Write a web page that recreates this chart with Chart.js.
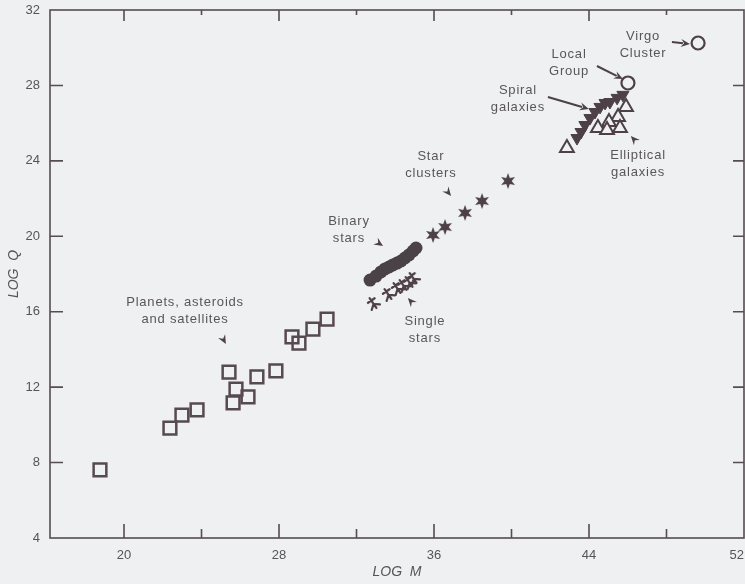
<!DOCTYPE html>
<html>
<head>
<meta charset="utf-8">
<script src="https://cdn.jsdelivr.net/npm/chart.js@4/dist/chart.umd.min.js"></script>
<style>
  html, body { margin: 0; padding: 0; background: #eef0f1; }
  #wrap { width: 745px; height: 584px; }
</style>
</head>
<body>
<div id="wrap"><canvas id="c" width="745" height="584"></canvas></div>
<script>
// Tick values
const xTicks = [20, 28, 36, 44, 52];
const yTicks = [4, 8, 12, 16, 20, 24, 28, 32];

// [log M, log Q] for each class of object
const planets = [
  [18.76, 7.61], [22.37, 9.83], [22.99, 10.52], [23.77, 10.79],
  [25.42, 12.80], [25.78, 11.90], [25.63, 11.16], [26.40, 11.48],
  [26.86, 12.54], [27.84, 12.86], [28.67, 14.66], [29.03, 14.34],
  [29.75, 15.08], [30.48, 15.61]
];
const singleStars = [
  [32.85, 16.46], [33.62, 16.94], [34.09, 17.26], [34.40, 17.42], [34.71, 17.58], [34.92, 17.79]
];
const binaryStars = [
  [32.70, 17.68], [33.01, 17.89], [33.26, 18.11], [33.47, 18.27], [33.68, 18.37], [33.88, 18.48],
  [34.09, 18.58], [34.30, 18.69], [34.50, 18.85], [34.71, 19.01], [34.92, 19.22], [35.07, 19.38]
];
const starClusters = [
  [35.95, 20.07], [36.57, 20.49], [37.60, 21.24], [38.48, 21.87], [39.82, 22.93]
];
const spiralGalaxies = [
  [43.38, 25.21], [43.59, 25.53], [43.79, 25.90], [44.05, 26.27], [44.31, 26.59],
  [44.57, 26.86], [44.83, 27.07], [45.08, 27.12], [45.45, 27.34], [45.75, 27.50]
];
const ellipticalGalaxies = [
  [42.86, 24.68], [45.91, 26.86], [45.50, 26.33], [45.03, 26.06],
  [44.46, 25.74], [44.93, 25.64], [45.60, 25.74]
];
const localGroup = [[46.01, 28.13]];
const virgoCluster = [[49.63, 30.25]];

// Callout labels (centre of the text block, in axis units)
const labels = [
  { lines: ['Virgo', 'Cluster'], at: [46.79, 30.14] },
  { lines: ['Local', 'Group'], at: [42.97, 29.19] },
  { lines: ['Spiral', 'galaxies'], at: [40.33, 27.28] },
  { lines: ['Elliptical', 'galaxies'], at: [46.53, 23.83] },
  { lines: ['Star', 'clusters'], at: [35.84, 23.78] },
  { lines: ['Binary', 'stars'], at: [31.61, 20.33] },
  { lines: ['Single', 'stars'], at: [35.53, 15.03] },
  { lines: ['Planets, asteroids', 'and satellites'], at: [23.15, 16.04] }
];
// Pointers: from -> to, with or without a shaft
const pointers = [
  { from: [48.28, 30.30], to: [49.21, 30.20], shaft: true },
  { from: [44.41, 29.03], to: [45.75, 28.34], shaft: true },
  { from: [41.88, 27.39], to: [43.99, 26.75], shaft: true },
  { from: [46.63, 24.79], to: [46.16, 25.32], shaft: false },
  { from: [36.46, 22.67], to: [36.88, 22.14], shaft: false },
  { from: [32.90, 19.80], to: [33.37, 19.48], shaft: false },
  { from: [35.12, 16.20], to: [34.65, 16.73], shaft: false },
  { from: [24.95, 14.87], to: [25.26, 14.29], shaft: false }
];

const BG = '#eef0f1';
const INK = '#4d4047';
const TEXT = '#5a5658';
const FONT = "'Liberation Sans', Arial, sans-serif";

const toPts = arr => arr.map(([x, y]) => ({ x, y }));

// Custom marker: filled six-pointed star
function makeStar() {
  const c = document.createElement('canvas');
  c.width = 18; c.height = 18;
  const g = c.getContext('2d');
  g.fillStyle = INK;
  g.beginPath();
  for (let i = 0; i < 12; i++) {
    const r = i % 2 === 0 ? 8 : 3.6;
    const a = -Math.PI / 2 + i * Math.PI / 6;
    const px = 9 + r * Math.cos(a), py = 9 + r * Math.sin(a);
    i === 0 ? g.moveTo(px, py) : g.lineTo(px, py);
  }
  g.closePath();
  g.fill();
  return c;
}
// Custom marker: forked cross used for single stars
function makeFork() {
  const c = document.createElement('canvas');
  c.width = 16; c.height = 16;
  const g = c.getContext('2d');
  g.strokeStyle = INK;
  g.lineWidth = 2.2;
  g.lineCap = 'round';
  g.translate(8, 8);
  g.rotate(-0.6);
  g.beginPath();
  g.moveTo(0, -6); g.lineTo(0, 6);
  g.moveTo(0, 1); g.lineTo(-5, 5);
  g.moveTo(0, 1); g.lineTo(5, 5);
  g.moveTo(-4, -3); g.lineTo(4, -3);
  g.stroke();
  return c;
}

const px = (chart, p) => [chart.scales.x.getPixelForValue(p[0]), chart.scales.y.getPixelForValue(p[1])];

const decor = {
  id: 'decor',
  beforeDraw(chart) {
    const { ctx, width, height } = chart;
    ctx.save();
    ctx.fillStyle = BG;
    ctx.fillRect(0, 0, width, height);
    ctx.restore();
  },
  beforeDatasetsDraw(chart) {
    const { ctx, chartArea: a, scales } = chart;
    ctx.save();
    ctx.strokeStyle = '#574c52';
    ctx.lineWidth = 1.6;
    ctx.strokeRect(a.left, a.top, a.right - a.left, a.bottom - a.top);
    ctx.beginPath();
    // x ticks (major labelled, minor between), pointing inward
    for (let v = 20; v <= 52; v += 4) {
      const x = scales.x.getPixelForValue(v);
      if (x > a.right - 1) continue;
      const major = (v - 20) % 8 === 0;
      ctx.moveTo(x, a.bottom); ctx.lineTo(x, a.bottom - (major ? 14 : 9));
      ctx.moveTo(x, a.top); ctx.lineTo(x, a.top + (major ? 11 : 5));
    }
    // y ticks
    yTicks.forEach(v => {
      if (v === 4 || v === 32) return;
      const y = scales.y.getPixelForValue(v);
      ctx.moveTo(a.left, y); ctx.lineTo(a.left + 13, y);
      ctx.moveTo(a.right, y); ctx.lineTo(a.right - 11, y);
    });
    ctx.stroke();
    ctx.restore();
  },
  afterDatasetsDraw(chart) {
    const { ctx } = chart;
    ctx.save();
    ctx.fillStyle = TEXT;
    ctx.font = '13px ' + FONT;
    ctx.letterSpacing = '0.8px';
    ctx.textAlign = 'center';
    ctx.textBaseline = 'middle';
    const lh = 17;
    labels.forEach(l => {
      const [cx, cy] = px(chart, l.at);
      const y0 = cy - (l.lines.length - 1) * lh / 2;
      l.lines.forEach((t, i) => ctx.fillText(t, cx, y0 + i * lh));
    });
    ctx.strokeStyle = INK;
    ctx.fillStyle = INK;
    ctx.lineWidth = 2;
    pointers.forEach(p => {
      const [x1, y1] = px(chart, p.from);
      const [x2, y2] = px(chart, p.to);
      const ang = Math.atan2(y2 - y1, x2 - x1);
      const hl = 9, hw = 4;
      if (p.shaft) {
        ctx.beginPath();
        ctx.moveTo(x1, y1);
        ctx.lineTo(x2 - Math.cos(ang) * (hl - 2), y2 - Math.sin(ang) * (hl - 2));
        ctx.stroke();
      }
      const bx = x2 - Math.cos(ang) * hl, by = y2 - Math.sin(ang) * hl;
      ctx.beginPath();
      ctx.moveTo(x2, y2);
      ctx.lineTo(bx + Math.sin(ang) * hw, by - Math.cos(ang) * hw);
      ctx.lineTo(x2 - Math.cos(ang) * hl * 0.65, y2 - Math.sin(ang) * hl * 0.65);
      ctx.lineTo(bx - Math.sin(ang) * hw, by + Math.cos(ang) * hw);
      ctx.closePath();
      ctx.fill();
    });
    ctx.restore();
  }
};

const starImg = makeStar();
const forkImg = makeFork();

// Scales keep no edge padding so the plot frame reaches the set bounds
const noEdgePadding = s => { s.paddingLeft = 0; s.paddingRight = 0; s.paddingTop = 0; s.paddingBottom = 0; };
// The last x label sits on the right edge; trailing spaces pull it back into view
const xLabel = v => (v === xTicks[xTicks.length - 1] ? v + '    ' : String(v));

new Chart(document.getElementById('c'), {
  type: 'scatter',
  data: {
    datasets: [
      { label: 'Elliptical galaxies', data: toPts(ellipticalGalaxies), pointStyle: 'triangle',
        pointRadius: 8, borderWidth: 2, borderColor: INK, backgroundColor: BG },
      { label: 'Local Group', data: toPts(localGroup), pointStyle: 'circle',
        pointRadius: 6.5, borderWidth: 2.2, borderColor: INK, backgroundColor: BG },
      { label: 'Virgo Cluster', data: toPts(virgoCluster), pointStyle: 'circle',
        pointRadius: 6.5, borderWidth: 2.2, borderColor: INK, backgroundColor: BG },
      { label: 'Spiral galaxies', data: toPts(spiralGalaxies), pointStyle: 'triangle', rotation: 180,
        pointRadius: 7, borderWidth: 1, borderColor: INK, backgroundColor: INK },
      { label: 'Star clusters', data: toPts(starClusters), pointStyle: starImg, pointRadius: 9 },
      { label: 'Binary stars', data: toPts(binaryStars), pointStyle: 'circle',
        pointRadius: 6.5, borderWidth: 0, backgroundColor: '#4a4246' },
      { label: 'Single stars', data: toPts(singleStars), pointStyle: forkImg, pointRadius: 8 },
      { label: 'Planets, asteroids and satellites', data: toPts(planets), pointStyle: 'rect',
        pointRadius: 9, borderWidth: 2.5, borderColor: '#574950', backgroundColor: 'rgba(0,0,0,0)' }
    ]
  },
  options: {
    responsive: false,
    animation: false,
    events: [],
    layout: { autoPadding: false, padding: { left: 0, right: 1, top: 10, bottom: 0 } },
    plugins: { legend: { display: false }, tooltip: { enabled: false } },
    scales: {
      x: {
        type: 'linear', min: 16.18, max: 52,
        afterBuildTicks: ax => { ax.ticks = xTicks.map(v => ({ value: v })); },
        afterFit: s => { s.height = 46; noEdgePadding(s); },
        grid: { display: false, drawTicks: false },
        border: { display: false },
        ticks: { padding: 10, color: '#555', font: { family: FONT, size: 13 }, maxRotation: 0,
          autoSkip: false, callback: xLabel },
        title: { display: true, text: 'LOG  M', color: '#555',
          font: { family: FONT, size: 14, style: 'italic' }, padding: { top: 0, bottom: 3 } }
      },
      y: {
        type: 'linear', min: 4, max: 32,
        afterBuildTicks: ax => { ax.ticks = yTicks.map(v => ({ value: v })); },
        afterFit: s => { s.width = 50; noEdgePadding(s); },
        grid: { display: false, drawTicks: false },
        border: { display: false },
        ticks: { padding: 10, color: '#555', font: { family: FONT, size: 13 }, autoSkip: false },
        title: { display: true, text: 'LOG  Q', color: '#555',
          font: { family: FONT, size: 14, style: 'italic' }, padding: { top: 6, bottom: 0 } }
      }
    }
  },
  plugins: [decor]
});
</script>
</body>
</html>
